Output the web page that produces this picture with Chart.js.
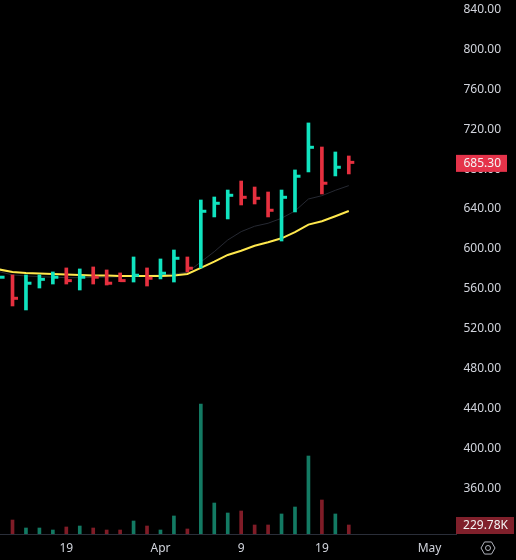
<!DOCTYPE html>
<html>
<head>
<meta charset="utf-8">
<style>html,body{margin:0;padding:0;background:#000;overflow:hidden}canvas{display:block}</style>
<script src="https://cdn.jsdelivr.net/npm/chart.js@4/dist/chart.umd.min.js"></script>
</head>
<body>
<canvas id="c" width="516" height="560"></canvas>
<script>
const sessions = [-1,0,1,2,3,4,5,6,7,8,9,10,11,12,13,14,15,16,17,18,19,20,21,22,23,24,25];
const highs = [570.2,572.5,572.5,572.5,575.5,579.5,578.5,580.5,577.5,574.5,590.5,579.5,588.5,597.5,590.5,647.6,650.6,657.6,666.6,660.6,655.6,657.6,677.7,724.8,700.7,695.7,691.7];
const lows = [570.2,541.4,537.4,559.4,563.4,563.4,557.4,563.4,562.4,565.8,565.4,561.4,568.5,565.4,575.5,579.5,630.6,628.6,642.6,643.6,630.6,606.5,635.6,675.7,653.6,671.7,673.7];
const closes = [570.2,549.1,564.2,568.1,570.2,566.8,570.2,570.2,564.2,566.8,572.2,569.2,574.2,589.2,579.2,636.3,644.3,652.3,650.3,649.3,637.3,650.3,671.4,700.4,664.4,680.4,685.3];
const sides = ['u','d','u','u','u','d','u','d','d','d','u','d','u','u','d','u','u','u','d','d','d','u','u','u','d','u','d'];
const maFast = [578,575.5,574.5,574,573.5,573,572.5,572,572,571.5,571.5,571.5,571.5,572,573.5,579.5,585.8,592.5,596.8,601.8,605.2,609.2,615.3,622.9,626.3,631.3,636.6];
const maSlow = [575.8,572.5,571.5,570.8,570.3,569.8,569.8,570,570.2,570.7,571.5,572,572.5,573.5,575.2,585.5,595.8,607.5,615.9,621.3,624.3,629.3,636.6,648.6,651.9,657.3,662];
const volumes = [null,357,153,153,102,179,204,153,102,102,332,204,102,460,128,3319,791,536,587,230,230,511,689,1991,868,511,229.78];
const xTickPositions = [4,11,17,23,31];
const xTickLabels = ['19','Apr','9','19','May'];
const priceTicks = [360,400,440,480,520,560,600,640,680,720,760,800,840];
const lastPrice = 685.30;
const lastVolume = 229.78;
const lastVolumeLabel = '229.78K';

const UP = '#10e3bf', DOWN = '#e6303f', UPV = '#137a63', DOWNV = '#801c27';
const FONT = '"Noto Sans", "Open Sans", sans-serif';

const tagsPlugin = {
  id: 'tags',
  afterDraw(chart) {
    const ctx = chart.ctx, yP = chart.scales.y, yV = chart.scales.y1;
    const tag = (text, yC, bg, x0, x1, yTop, h) => {
      ctx.save();
      ctx.fillStyle = bg;
      ctx.fillRect(x0, yTop, x1 - x0, h);
      ctx.fillStyle = '#f4f4f4';
      ctx.font = '12px ' + FONT;
      ctx.textAlign = 'right';
      ctx.textBaseline = 'middle';
      ctx.fillText(text, x1 - 6, yC);
      ctx.restore();
    };
    const py = yP.getPixelForValue(lastPrice);
    tag(lastPrice.toFixed(2), py + 1.5, '#e5334a', 456, 507, py - 7.5, 17);
    const vy = yV.getPixelForValue(lastVolume);
    tag(lastVolumeLabel, vy + 1, '#80202b', 456, 514, 517, 17);
    // settings hexagon
    const cx = 488, cy = 548, r = 7;
    ctx.save();
    ctx.strokeStyle = '#b2b5be';
    ctx.lineWidth = 1;
    ctx.beginPath();
    for (let i = 0; i < 6; i++) {
      const a = Math.PI / 3 * i;
      const px = cx + r * Math.cos(a), pyy = cy + r * Math.sin(a);
      i ? ctx.lineTo(px, pyy) : ctx.moveTo(px, pyy);
    }
    ctx.closePath();
    ctx.stroke();
    ctx.beginPath();
    ctx.arc(cx, cy, 2.5, 0, Math.PI * 2);
    ctx.stroke();
    ctx.restore();
  }
};

new Chart(document.getElementById('c'), {
  data: {
    datasets: [
      { type: 'line', label: 'MA slow', order: 4, yAxisID: 'y', data: sessions.map((x, i) => ({ x, y: maSlow[i] })),
        borderColor: '#262932', borderWidth: 1, pointRadius: 0, tension: 0 },
      { type: 'line', label: 'MA fast', order: 3, yAxisID: 'y', data: sessions.map((x, i) => ({ x, y: maFast[i] })),
        borderColor: '#ffe84d', borderWidth: 2, pointRadius: 0, tension: 0 },
      { type: 'bar', label: 'Volume', order: 5, yAxisID: 'y1', grouped: false, barThickness: 3,
        data: sessions.map((x, i) => ({ x, y: volumes[i] })),
        backgroundColor: sides.map(s => s === 'u' ? UPV : DOWNV) },
      { type: 'bar', label: 'Range', order: 2, yAxisID: 'y', grouped: false, barThickness: 3,
        data: sessions.map((x, i) => ({ x, y: [lows[i], highs[i]] })),
        backgroundColor: sides.map(s => s === 'u' ? UP : DOWN) },
      { type: 'scatter', label: 'Close', order: 1, yAxisID: 'y', showLine: false,
        data: sessions.map((x, i) => ({ x, y: closes[i] })),
        pointStyle: 'dash', pointRadius: 5.5, pointBorderWidth: 3, pointBackgroundColor: sides.map(s => s === 'u' ? UP : DOWN),
        pointBorderColor: sides.map(s => s === 'u' ? UP : DOWN) }
    ]
  },
  options: {
    responsive: false,
    animation: false,
    events: [],
    layout: { autoPadding: false, padding: { left: 0, right: 15, top: 0, bottom: 0 } },
    plugins: { legend: { display: false }, tooltip: { enabled: false } },
    scales: {
      x: {
        type: 'linear',
        offset: false,
        min: -0.93,
        max: 32.97,
        grid: { display: false, drawTicks: false },
        border: { display: true, color: '#2a2e39', width: 1 },
        afterBuildTicks(s) { s.ticks = xTickPositions.map(value => ({ value })); },
        afterFit(s) { s.height = 26; s.paddingLeft = 0; s.paddingRight = 0; },
        ticks: {
          autoSkip: false, maxRotation: 0, padding: 7, color: '#d1d4dc',
          font: { family: FONT, size: 12 },
          callback(v) { const k = xTickPositions.indexOf(v); return k >= 0 ? xTickLabels[k] : ''; }
        }
      },
      y: {
        type: 'linear',
        display: false,
        min: 312.9,
        max: 848.0
      },
      yLabels: {
        type: 'linear',
        position: 'right',
        min: 314.4,
        max: 849.5,
        grid: { display: false, drawTicks: false },
        border: { display: false },
        afterBuildTicks(s) { s.ticks = priceTicks.map(value => ({ value })); },
        afterFit(s) { s.width = 45; s.paddingTop = 0; s.paddingBottom = 0; },
        ticks: {
          crossAlign: 'far', padding: 0, color: '#d1d4dc', autoSkip: false,
          font: { family: FONT, size: 12 },
          callback: v => Number(v).toFixed(2)
        }
      },
      y1: {
        type: 'linear',
        display: false,
        min: 0,
        max: 13633
      }
    }
  },
  plugins: [tagsPlugin]
});
</script>
</body>
</html>
